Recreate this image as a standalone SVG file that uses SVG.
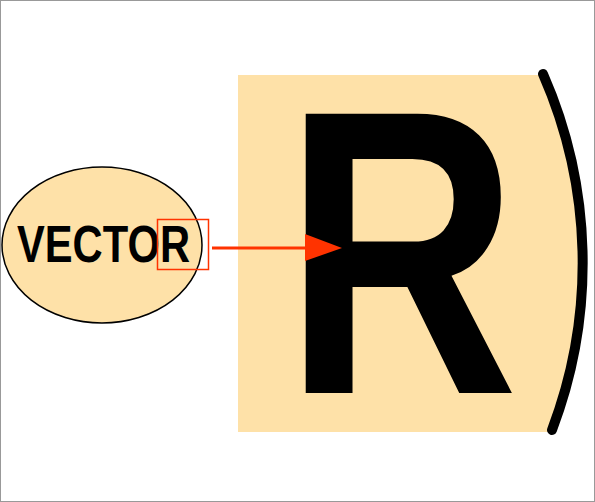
<svg xmlns="http://www.w3.org/2000/svg" width="595" height="502" viewBox="0 0 595 502">
<style>
.peach{fill:#FEE1A8}
.lbl{font-family:"Liberation Sans",Arial,sans-serif;font-weight:bold;fill:#000}
</style>
<rect x="0.5" y="0.5" width="594" height="501" fill="#fff" stroke="#999" stroke-width="1"/>
<g id="zoomed">
<path class="peach" d="M238,75 L543,75 A470 470 0 0 1 552,432 L238,432 Z"/>
<text class="lbl" x="0" y="0" font-size="406" transform="translate(284,393) scale(0.8,1)">R</text>
<path d="M543,74 A470 470 0 0 1 552,430" fill="none" stroke="#000" stroke-width="10" stroke-linecap="round"/>
</g>
<g id="vector">
<ellipse class="peach" cx="102" cy="245" rx="100" ry="78" stroke="#000" stroke-width="1.5"/>
<text class="lbl" x="17" y="262" font-size="52" textLength="173" lengthAdjust="spacingAndGlyphs">VECTOR</text>
<rect x="157.5" y="219.5" width="51" height="50" fill="none" stroke="#FF3300" stroke-width="1.5"/>
</g>
<g id="connectors">
<line x1="212" y1="248" x2="305" y2="248" stroke="#FF3300" stroke-width="3"/>
<path d="M305,234 L342,248 L305,261 Z" fill="#FF3300"/>
</g>
</svg>
